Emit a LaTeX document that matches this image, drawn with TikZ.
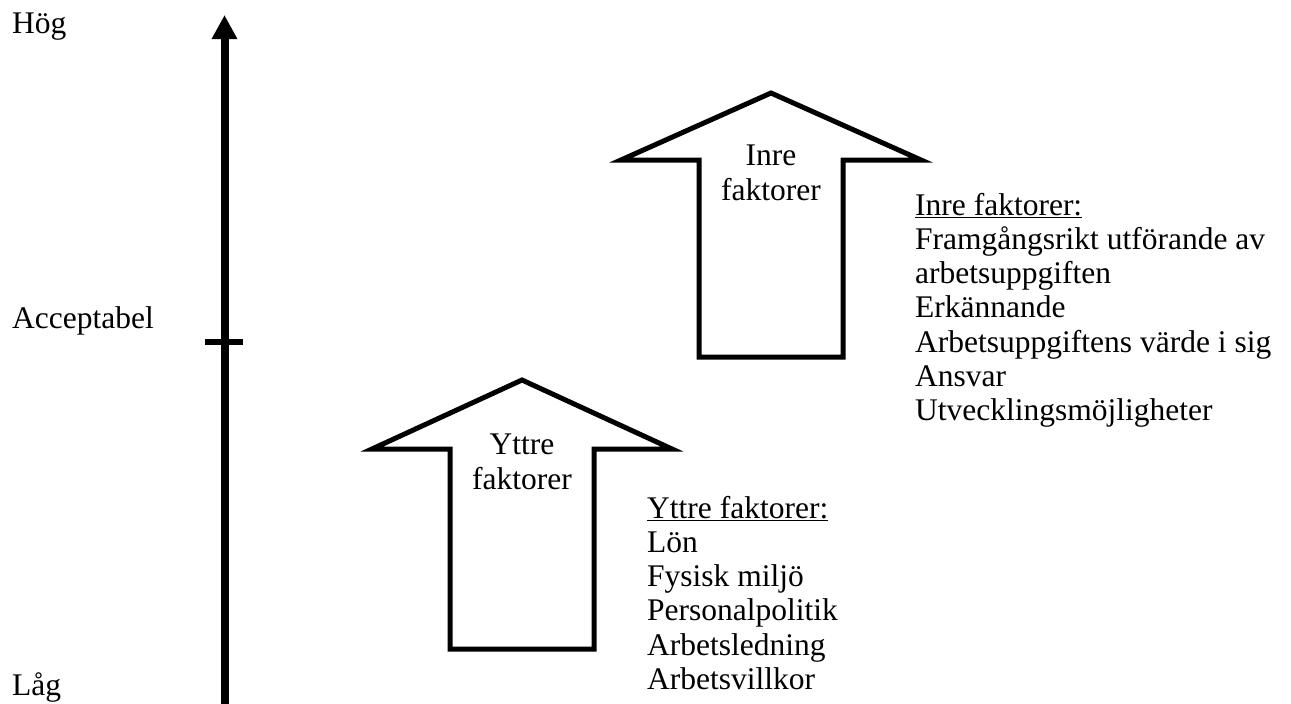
\documentclass[tikz,border=0pt]{standalone}
\usepackage{fontspec}
\setmainfont{Liberation Serif}
\usetikzlibrary{arrows.meta}
\begin{document}
\begin{tikzpicture}[x=1pt,y=-1pt,
  lbl/.style={font=\fontsize{31.5}{34.2}\selectfont, inner sep=0pt},
  axisline/.style={line width=8pt, -{Triangle[length=24pt,width=24pt]}},
  tickline/.style={line width=6pt},
  blockarrow/.style={line width=5pt, line join=miter, fill=white},
  listbox/.style={lbl, align=left, anchor=north west},
  arrowlbl/.style={lbl, align=center, anchor=north},
]
\useasboundingbox (0,0) rectangle (1291,704);

% vertical scale with its mid-level tick
\coordinate (axisbottom) at (224.5,706);
\coordinate (axistop) at (224.5,15);
\coordinate (tickleft) at (205,342);
\coordinate (tickright) at (243,342);
\draw[axisline] (axisbottom) -- (axistop);
\draw[tickline] (tickleft) -- (tickright);

% level labels
\node[lbl, anchor=base west] (hog) at (12,34) {Hög};
\node[lbl, anchor=base west] (acceptabel) at (12,328) {Acceptabel};
\node[lbl, anchor=base west] (lag) at (12,695) {Låg};

% block arrow for the outer factors
\draw[blockarrow] (522,380) -- (672,449) -- (594,449) -- (594,649)
  -- (450,649) -- (450,449) -- (372,449) -- cycle;
\node[arrowlbl] (yttrelbl) at (522,434) {Yttre\\faktorer};

% block arrow for the inner factors
\draw[blockarrow] (771,93) -- (921,160) -- (843,160) -- (843,357)
  -- (699,357) -- (699,160) -- (621,160) -- cycle;
\node[arrowlbl] (inrelbl) at (771,145) {Inre\\faktorer};

% factor lists
\node[listbox] (yttrelist) at (647,496) {\underline{Yttre faktorer:}\\Lön\\Fysisk miljö\\Personalpolitik\\Arbetsledning\\Arbetsvillkor};
\node[listbox] (inrelist) at (915,193) {\underline{Inre faktorer:}\\Framgångsrikt utförande av\\arbetsuppgiften\\Erkännande\\Arbetsuppgiftens värde i sig\\Ansvar\\Utvecklingsmöjligheter};
\end{tikzpicture}
\end{document}
